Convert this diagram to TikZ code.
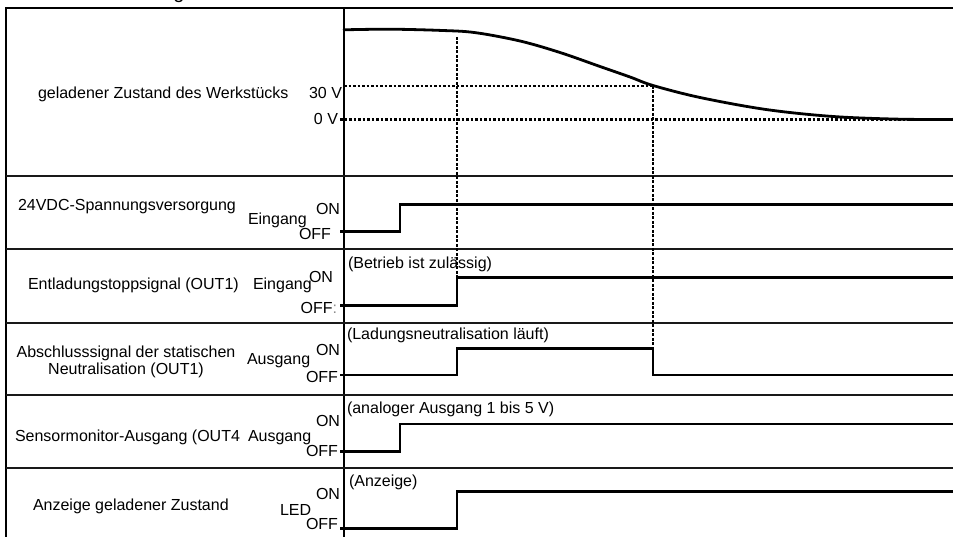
\documentclass[tikz,border=0pt]{standalone}
\usepackage{fontspec}
\setmainfont{Liberation Sans}
\begin{document}
\begin{tikzpicture}[x=1pt,y=-1pt,
  lbl/.style={inner sep=0pt, outer sep=0pt, font=\fontsize{16}{18}\selectfont},
  lw/.style={lbl, anchor=base west},
  le/.style={lbl, anchor=base east},
  sepline/.style={line width=1.6pt, draw=black!90},
  frameline/.style={line width=1.8pt},
  sig/.style={line width=2.8pt, line join=miter, line cap=butt},
  dotline/.style={line width=2.6pt, dash pattern=on 2.6pt off 1.9pt},
  chargecurve/.style={line width=2.8pt, line cap=round}]
\useasboundingbox (0,0) rectangle (953,537);
\fill[white] (0,0) rectangle (953,537);

% cut-off title glyph at the very top
\node[lbl, anchor=base, font=\fontsize{20}{22}\selectfont] (title) at (179,-1.2) {g};

% frame and row separators
\draw[frameline] (6,537) -- (6,8) -- (953,8);
\draw[frameline] (344,8) -- (344,537);
\foreach \yy in {176,249,323,395,468}{
  \draw[sepline] (6,\yy) -- (953,\yy);
}

% time marks
\coordinate (tA) at (400,0);
\coordinate (tB) at (457,0);
\coordinate (tC) at (653,0);

% dotted guide lines
\draw[dotline] (344,86) -- (653,86);
\draw[dotline] (340,119.3) -- (953,119.3);
\draw[dotline] (457,37) -- (457,277);
\draw[dotline] (653,86) -- (653,348);

% charge curve
\draw[chargecurve] plot[smooth, tension=0.55] coordinates {
  (344,29.8) (390,29.2) (440,30.4) (475,32.6) (520,41) (560,52.5) (600,66.5)
  (630,77) (653,85.5) (700,97.5) (766,109.5) (833,116.5) (900,119.2) (953,119.4)};

% digital signals
\draw[sig] (340,231.7) -- (400,231.7) -- (400,204.3) -- (953,204.3);
\draw[sig] (340,305.7) -- (457,305.7) -- (457,277.3) -- (953,277.3);
\draw[sig] (340,375) -- (457,375) -- (457,348.3) -- (653,348.3) -- (653,375) -- (953,375);
\draw[sig] (340,451.7) -- (400,451.7) -- (400,424) -- (953,424);
\draw[sig] (340,528.3) -- (457,528.3) -- (457,491.7) -- (953,491.7);

% row 1
\node[lw] (n1) at (38,99) {geladener Zustand des Werkstücks};
\node[le] (v30) at (342,99) {30 V};
\node[le] (v0) at (338,125) {0 V};

% row 2
\node[lw] (n2) at (18,211) {24VDC-Spannungsversorgung};
\node[lw] (e2) at (248,224.5) {Eingang};
\node[le] (on2) at (340,215) {ON};
\node[le] (off2) at (331,240) {OFF};

% row 3
\node[lw] (n3) at (28,289.5) {Entladungstoppsignal (OUT1)};
\node[lw] (e3) at (253,289.5) {Eingang};
\node[le] (on3) at (333,282.7) {ON};
\node[le] (off3) at (337,313.3) {OFF\textcolor{black!45}{:}};
\node[lw] (c3) at (348,268.5) {(Betrieb ist zulässig)};

% row 4
\node[lbl, anchor=base] (n4) at (126,357.3) {Abschlusssignal der statischen};
\node[lbl, anchor=base] (n4b) at (126,374.3) {Neutralisation (OUT1)};
\node[lw] (a4) at (247,364) {Ausgang};
\node[le] (on4) at (340,355) {ON};
\node[le] (off4) at (338,382.3) {OFF};
\node[lw] (c4) at (347,339.5) {(Ladungsneutralisation läuft)};

% row 5
\node[lw] (n5) at (15,441.7) {Sensormonitor-Ausgang (OUT4};
\node[lw] (a5) at (248,441.7) {Ausgang};
\node[le] (on5) at (340,426) {ON};
\node[le] (off5) at (338,456.7) {OFF};
\node[lw] (c5) at (347,413.3) {(analoger Ausgang 1 bis 5 V)};

% row 6
\node[lw] (n6) at (33,510.7) {Anzeige geladener Zustand};
\node[lw] (led6) at (280,515) {LED};
\node[le] (on6) at (340,499.3) {ON};
\node[le] (off6) at (338,529.3) {OFF};
\node[lw] (c6) at (349,486.7) {(Anzeige)};
\end{tikzpicture}
\end{document}
